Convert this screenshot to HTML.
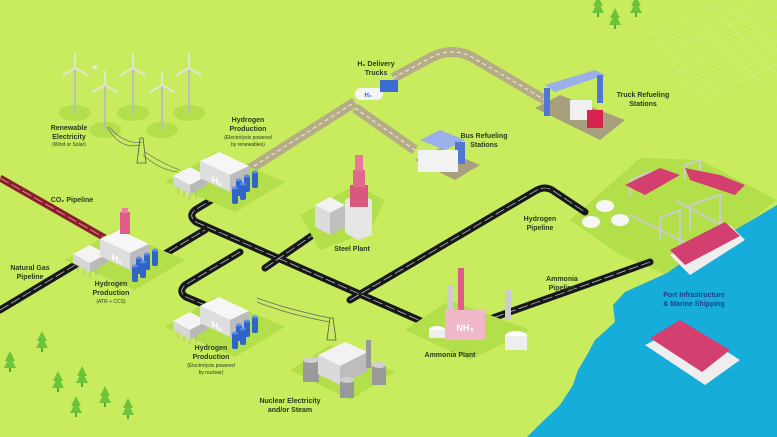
<!DOCTYPE html>
<html><head><meta charset="utf-8"><style>
html,body{margin:0;padding:0;background:#c8ec5e;}
svg{display:block}
text{font-family:"Liberation Sans",sans-serif;font-weight:bold;fill:#2a3a1e;text-anchor:middle}
.s{font-weight:normal;font-size:5px}
.l{font-size:7px}
</style></head><body>
<svg width="777" height="437" viewBox="0 0 777 437" xmlns="http://www.w3.org/2000/svg">
<defs>
<g id="plant">
  <polygon points="165,182 215,152 285,182 235,212" fill="#b3df4a"/>
  <g stroke="#aaa" stroke-width="0.8"><line x1="178" y1="186" x2="178" y2="194"/><line x1="184" y1="189" x2="184" y2="197"/><line x1="190" y1="192" x2="190" y2="200"/><line x1="196" y1="190" x2="196" y2="198"/></g>
  <polygon points="173,176 190,167 207,176 190,185" fill="#f4f4f4"/>
  <polygon points="173,176 190,185 190,194 173,185" fill="#d6d6d6"/>
  <polygon points="190,185 207,176 207,185 190,194" fill="#b9b9b9"/>
  <polygon points="200,161 219,152 249,166 230,175" fill="#f6f6f6"/>
  <polygon points="200,161 230,175 230,192 200,178" fill="#dedede"/>
  <polygon points="230,175 249,166 249,183 230,192" fill="#bcbcbc"/>
  <text x="217" y="184" font-size="9" style="fill:#fff" transform="skewY(25) translate(0,-101)">H₂</text>
  <g fill="#2f64c8">
    <rect x="236" y="180" width="6" height="16" rx="2"/><rect x="244" y="176" width="6" height="16" rx="2"/><rect x="252" y="172" width="6" height="16" rx="2"/>
    <rect x="232" y="188" width="6" height="16" rx="2"/><rect x="240" y="184" width="6" height="16" rx="2"/>
  </g>
  <g fill="#5b8ee8"><ellipse cx="239" cy="180" rx="3" ry="1.5"/><ellipse cx="247" cy="176" rx="3" ry="1.5"/><ellipse cx="255" cy="172" rx="3" ry="1.5"/><ellipse cx="235" cy="188" rx="3" ry="1.5"/><ellipse cx="243" cy="184" rx="3" ry="1.5"/></g>
</g>
<g id="tree"><polygon points="0,-14 -5,-4 5,-4" fill="#6cc43a"/><polygon points="0,-9 -6,3 6,3" fill="#6cc43a"/><rect x="-1" y="3" width="2" height="4" fill="#5aa830"/></g>
<g id="turb">
  <ellipse cx="0" cy="45" rx="16" ry="8" fill="#b3df4a"/>
  <rect x="-1" y="0" width="2" height="45" fill="#bdbdbd"/>
  <g stroke="#e6e6e6" stroke-width="1.6" stroke-linecap="round"><line x1="0" y1="0" x2="0" y2="-14"/><line x1="0" y1="0" x2="-12" y2="7"/><line x1="0" y1="0" x2="12" y2="7"/></g>
</g>
</defs>

<g stroke="#d0ef7e" stroke-width="0.8">
<line x1="650" y1="35" x2="777" y2="-20"/><line x1="655" y1="45" x2="777" y2="-8"/><line x1="660" y1="55" x2="777" y2="4"/><line x1="665" y1="65" x2="777" y2="16"/><line x1="670" y1="75" x2="777" y2="28"/><line x1="680" y1="85" x2="777" y2="40"/><line x1="690" y1="95" x2="777" y2="52"/><line x1="700" y1="102" x2="777" y2="64"/>
<line x1="700" y1="20" x2="777" y2="100"/><line x1="720" y1="15" x2="777" y2="75"/><line x1="740" y1="10" x2="777" y2="50"/>
</g>

<polygon points="570,220 640,158 700,160 777,200 740,228 667,275 620,255" fill="#b3df4a"/>
<path d="M777,205 L740,227 L700,250 L667,273 L625,292 L613,305 L615,322 L595,340 L587,355 L578,370 L573,385 L560,405 L537,427 L527,437 L777,437 Z" fill="#17addb"/>

<line x1="0" y1="178" x2="105" y2="238" stroke="#8a1f2c" stroke-width="7"/>
<line x1="0" y1="178" x2="105" y2="238" stroke="#e8a0b0" stroke-width="0.8" stroke-dasharray="10,3"/>

<g fill="none" stroke="#b6ac86" stroke-width="10" stroke-linejoin="round">
<path d="M248,170 L355,102"/>
<path d="M393,78 L432,57 Q452,47 472,57 L545,100"/>
<path d="M355,108 L415,150"/>
</g>
<g fill="none" stroke="#fff" stroke-width="0.8" stroke-dasharray="4,3">
<path d="M248,170 L355,102"/><path d="M393,78 L432,57 Q452,47 472,57 L545,100"/><path d="M355,108 L415,150"/>
</g>

<g fill="none" stroke="#16181a" stroke-width="7" stroke-linejoin="round" stroke-linecap="round">
<path d="M0,310 L80,262"/>
<path d="M158,258 L205,230"/>
<path d="M228,190 L195,210 Q188,216 196,222 L430,325"/>
<path d="M350,300 L537,190 Q545,186 552,190 L585,212"/>
<path d="M265,268 L323,228"/>
<path d="M240,252 L185,285 Q178,292 186,297 L205,305"/>
<path d="M445,335 L650,262"/>
</g>
<g fill="none" stroke="#e8e8e8" stroke-width="0.6" stroke-dasharray="10,3">
<path d="M0,310 L80,262"/><path d="M158,258 L205,230"/><path d="M228,190 L195,210 Q188,216 196,222 L430,325"/><path d="M350,300 L537,190 Q545,186 552,190 L585,212"/><path d="M265,268 L323,228"/><path d="M240,252 L185,285 Q178,292 186,297 L205,305"/><path d="M445,335 L650,262"/>
</g>

<use href="#turb" x="75" y="68"/><use href="#turb" x="105" y="85"/><use href="#turb" x="133" y="68"/><use href="#turb" x="162" y="85"/><use href="#turb" x="189" y="68"/>
<text x="95" y="70" font-size="8" style="fill:#eee">✶</text>
<g stroke="#666" fill="none" stroke-width="0.7"><path d="M107,127 Q120,150 140,145"/><path d="M109,127 Q125,145 142,142"/><path d="M143,155 Q160,170 178,172"/><path d="M145,152 Q165,165 180,170"/>
<path d="M257,298 Q290,310 330,318"/><path d="M257,302 Q290,315 330,322"/></g>
<polygon points="137,163 140,138 143,138 146,163" fill="none" stroke="#555" stroke-width="0.8"/>
<polygon points="327,340 330,318 333,318 336,340" fill="none" stroke="#555" stroke-width="0.8"/>

<use href="#plant"/>
<use href="#plant" x="-100" y="78"/>
<use href="#plant" x="0" y="145"/>
<rect x="120" y="212" width="10" height="22" fill="#e05a8a"/><rect x="122" y="208" width="6" height="5" fill="#f07aa0"/>

<polygon points="300,215 355,185 385,200 370,232 320,250" fill="#b3df4a"/>
<polygon points="315,205 330,197 345,205 330,213" fill="#f2f2f2"/>
<polygon points="315,205 330,213 330,235 315,227" fill="#dcdcdc"/>
<polygon points="330,213 345,205 345,227 330,235" fill="#c0c0c0"/>
<polygon points="345,200 358,193 372,200 372,235 358,240 345,233" fill="#e6e6e6"/>
<rect x="350" y="185" width="18" height="22" fill="#d8587e"/>
<rect x="353" y="170" width="12" height="17" fill="#e06a8e"/>
<rect x="355" y="155" width="8" height="16" fill="#e8799c"/>

<polygon points="290,370 330,345 395,372 350,400" fill="#b3df4a"/>
<rect x="303" y="360" width="16" height="22" fill="#9a9a9a"/><ellipse cx="311" cy="360" rx="8" ry="3" fill="#d0d0d0"/>
<polygon points="318,355 345,342 368,352 340,366" fill="#f2f2f2"/>
<polygon points="318,355 340,366 340,385 318,374" fill="#dadada"/>
<polygon points="340,366 368,352 368,371 340,385" fill="#bdbdbd"/>
<rect x="366" y="340" width="5" height="28" fill="#999"/>
<rect x="340" y="380" width="14" height="18" fill="#999"/><ellipse cx="347" cy="380" rx="7" ry="3" fill="#d0d0d0"/>
<rect x="372" y="365" width="14" height="20" fill="#999"/><ellipse cx="379" cy="365" rx="7" ry="3" fill="#d0d0d0"/>

<rect x="355" y="88" width="28" height="12" rx="6" fill="#f4f4f4"/>
<text x="368" y="97" font-size="6" style="fill:#2f64c8">H₂</text>
<rect x="380" y="80" width="18" height="12" fill="#3b6ad0"/>

<polygon points="535,108 560,95 625,120 600,140" fill="#a89f7c"/>
<polygon points="545,85 595,70 605,75 555,92" fill="#9bb0e8"/>
<rect x="544" y="88" width="6" height="28" fill="#5177d6"/><rect x="597" y="75" width="6" height="28" fill="#5177d6"/>
<rect x="570" y="100" width="22" height="20" fill="#f0f0f0"/>
<rect x="587" y="110" width="16" height="18" fill="#d7234e"/>
<polygon points="415,160 440,148 480,165 455,180" fill="#a89f7c"/>
<polygon points="420,140 440,130 465,140 445,150" fill="#9bb0e8"/>
<rect x="455" y="142" width="10" height="22" fill="#5177d6"/>
<rect x="418" y="150" width="40" height="22" fill="#f2f2f2"/>

<polygon points="405,330 450,300 530,330 470,360" fill="#b3df4a"/>
<rect x="445" y="310" width="40" height="30" fill="#f0b8c8"/>
<text x="465" y="331" font-size="9" style="fill:#fff">NH₃</text>
<rect x="458" y="268" width="6" height="42" fill="#e05a8a"/>
<rect x="447" y="285" width="6" height="25" fill="#ccc"/><rect x="505" y="290" width="6" height="30" fill="#ccc"/>
<ellipse cx="437" cy="330" rx="8" ry="4" fill="#fff"/><rect x="429" y="330" width="16" height="8" fill="#eee"/>
<ellipse cx="516" cy="336" rx="11" ry="5" fill="#fff"/><rect x="505" y="336" width="22" height="14" fill="#eee"/>

<g fill="#f6f6f6"><ellipse cx="591" cy="222" rx="9" ry="6"/><ellipse cx="605" cy="206" rx="9" ry="6"/><ellipse cx="620" cy="220" rx="9" ry="6"/></g>
<g stroke="#ccc" stroke-width="2" fill="none"><path d="M630,195 L630,180 L650,172 L650,185"/><path d="M685,180 L685,165 L700,160 L700,175"/><path d="M660,240 L660,218 L680,210 L680,250"/><path d="M690,230 L690,205 L720,195 L720,230"/><line x1="630" y1="215" x2="690" y2="245"/><line x1="675" y1="200" x2="730" y2="230"/></g>
<g fill="#d33f6e"><polygon points="625,185 660,168 680,175 645,195"/><polygon points="685,168 720,175 745,185 735,195 690,180"/></g>
<polygon points="670,255 730,225 745,240 690,275" fill="#eee"/>
<polygon points="670,250 725,222 740,236 685,265" fill="#d33f6e"/>
<polygon points="645,345 685,325 740,360 705,385" fill="#eee"/>
<polygon points="650,338 680,320 730,350 702,372" fill="#d33f6e"/>

<use href="#tree" x="10" y="365"/><use href="#tree" x="42" y="345"/><use href="#tree" x="58" y="385"/><use href="#tree" x="82" y="380"/><use href="#tree" x="76" y="410"/><use href="#tree" x="105" y="400"/><use href="#tree" x="128" y="412"/><use href="#tree" x="598" y="10"/><use href="#tree" x="615" y="22"/><use href="#tree" x="636" y="10"/>

<text class="l" x="69" y="130">Renewable</text><text class="l" x="69" y="139">Electricity</text><text class="s" x="69" y="146">(Wind or Solar)</text>
<text class="l" x="376" y="66">H₂ Delivery</text><text class="l" x="376" y="75">Trucks</text>
<text class="l" x="248" y="122">Hydrogen</text><text class="l" x="248" y="131">Production</text><text class="s" x="248" y="139">(Electrolysis powered</text><text class="s" x="248" y="146">by renewables)</text>
<text class="l" x="72" y="202">CO₂ Pipeline</text>
<text class="l" x="30" y="270">Natural Gas</text><text class="l" x="30" y="279">Pipeline</text>
<text class="l" x="111" y="286">Hydrogen</text><text class="l" x="111" y="295">Production</text><text class="s" x="111" y="303">(ATR + CCS)</text>
<text class="l" x="352" y="251">Steel Plant</text>
<text class="l" x="211" y="350">Hydrogen</text><text class="l" x="211" y="359">Production</text><text class="s" x="211" y="367">(Electrolysis powered</text><text class="s" x="211" y="374">by nuclear)</text>
<text class="l" x="290" y="403">Nuclear Electricity</text><text class="l" x="290" y="412">and/or Steam</text>
<text class="l" x="643" y="97">Truck Refueling</text><text class="l" x="643" y="106">Stations</text>
<text class="l" x="484" y="138">Bus Refueling</text><text class="l" x="484" y="147">Stations</text>
<text class="l" x="540" y="221">Hydrogen</text><text class="l" x="540" y="230">Pipeline</text>
<text class="l" x="562" y="281">Ammonia</text><text class="l" x="562" y="290">Pipeline</text>
<text class="l" x="450" y="357">Ammonia Plant</text>
<text class="l" x="694" y="297" style="fill:#1d3f8a">Port Infrastructure</text><text class="l" x="694" y="306" style="fill:#1d3f8a">&amp; Marine Shipping</text>
</svg>
</body></html>
